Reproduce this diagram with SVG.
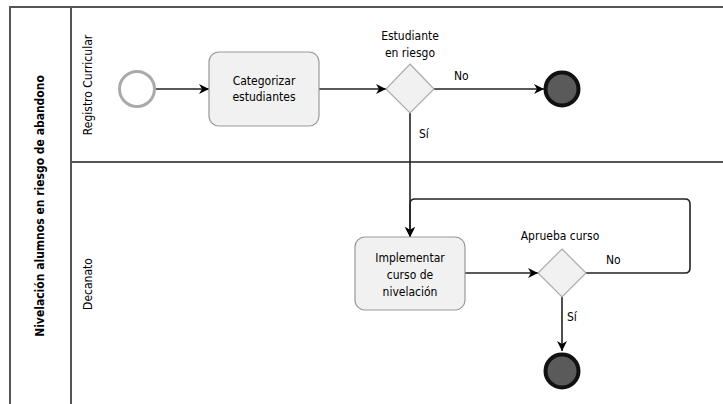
<svg xmlns="http://www.w3.org/2000/svg" width="723" height="404" viewBox="0 0 723 404">
<defs>
<marker id="arr" viewBox="0 0 10 10" refX="10" refY="5" markerWidth="10" markerHeight="10" markerUnits="userSpaceOnUse" orient="auto">
<path d="M0,0 L10,5 L0,10 L3,5 Z" fill="#000"/>
</marker>
<style>
text{font-family:"DejaVu Sans Condensed","DejaVu Sans",sans-serif;font-size:12px;fill:#000}
.pool{fill:none;stroke:#555;stroke-width:2}
.task{fill:#f1f1f1;stroke:#999;stroke-width:1.2}
.gw{fill:#f1f1f1;stroke:#aaa;stroke-width:1.2}
.flow{fill:none;stroke:#222;stroke-width:1.6;marker-end:url(#arr)}
.end{fill:#5a5a5a;stroke:#111;stroke-width:4}
.c{text-anchor:middle}
</style>
</defs>
<rect width="723" height="404" fill="#fff"/>
<g id="pool">
<rect class="pool" x="10" y="7" width="730" height="405"/>
<line class="pool" x1="71" y1="7" x2="71" y2="412"/>
<line class="pool" x1="71" y1="162" x2="740" y2="162"/>
<text class="c" transform="translate(44,206) rotate(-90)" style="font-weight:bold">Nivelación alumnos en riesgo de abandono</text>
<text class="c" transform="translate(92,85) rotate(-90)">Registro Curricular</text>
<text class="c" transform="translate(92,284) rotate(-90)">Decanato</text>
</g>
<g id="connectors">
<line class="flow" x1="156" y1="89" x2="209" y2="89"/>
<line class="flow" x1="319" y1="89" x2="386" y2="89"/>
<line class="flow" x1="434" y1="89" x2="544" y2="89"/>
<line class="flow" x1="410" y1="113" x2="410" y2="237"/>
<line class="flow" x1="465" y1="273" x2="538" y2="273"/>
<path class="flow" d="M586,273 H685 Q690,273 690,268 V204 Q690,199 685,199 H415 Q410,199 410,204 V237"/>
<line class="flow" x1="562" y1="297" x2="562" y2="351"/>
<text x="454" y="80">No</text>
<text x="419" y="138">Sí</text>
<text x="606" y="264">No</text>
<text x="567" y="321">Sí</text>
</g>
<g id="start">
<circle cx="137" cy="89" r="17.5" fill="#fff" stroke="#aaa" stroke-width="3"/>
</g>
<g id="task1">
<rect class="task" x="209" y="52" width="110" height="74" rx="10"/>
<text class="c" x="264" y="85">Categorizar</text>
<text class="c" x="264" y="101">estudiantes</text>
</g>
<g id="gw1">
<path class="gw" d="M410,64 L434,89 L410,113 L386,89 Z"/>
<text class="c" x="410" y="40">Estudiante</text>
<text class="c" x="410" y="57">en riesgo</text>
</g>
<g id="end1">
<circle class="end" cx="562" cy="89" r="16.5"/>
</g>
<g id="task2">
<rect class="task" x="355" y="237" width="110" height="73" rx="10"/>
<text class="c" x="410" y="262">Implementar</text>
<text class="c" x="410" y="279">curso de</text>
<text class="c" x="410" y="296">nivelación</text>
</g>
<g id="gw2">
<path class="gw" d="M562,249 L586,273 L562,297 L538,273 Z"/>
<text class="c" x="560" y="240">Aprueba curso</text>
</g>
<g id="end2">
<circle class="end" cx="562" cy="371" r="16.5"/>
</g>
</svg>
